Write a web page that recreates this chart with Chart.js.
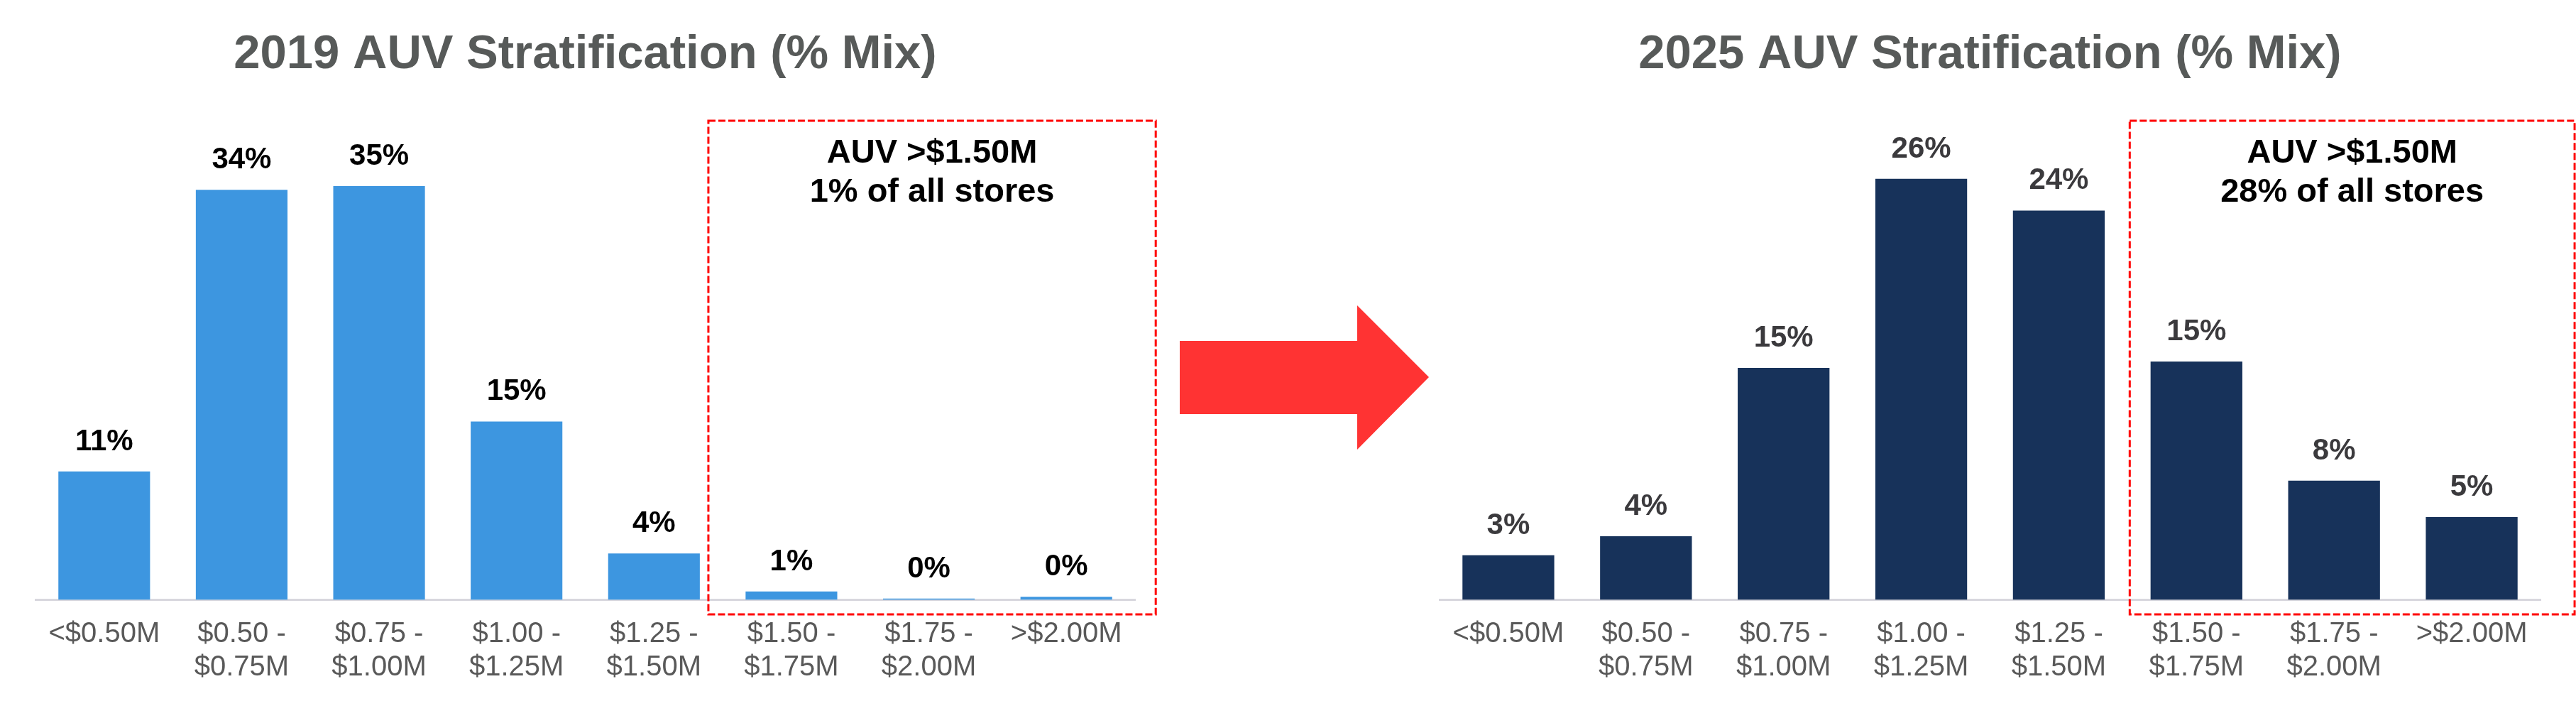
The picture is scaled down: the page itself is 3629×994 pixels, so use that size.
<!DOCTYPE html>
<html>
<head>
<meta charset="utf-8">
<title>AUV Stratification</title>
<script src="https://cdn.jsdelivr.net/npm/chart.js@4.4.1/dist/chart.umd.min.js"></script>
<style>
  html, body { margin: 0; padding: 0; background: #fff; }
  body { width: 3629px; height: 994px; position: relative; overflow: hidden; }
  .wrap { position: absolute; top: 0; height: 994px; }
  #w19 { left: 0; width: 1660px; }
  #w25 { left: 1960px; width: 1669px; }
  /* big red arrow between the two charts */
  #arrow {
    position: absolute; left: 1662px; top: 430px; width: 351px; height: 203px;
    background: #ff3333;
    clip-path: polygon(0 50px, 250px 50px, 250px 0, 351px 101px, 250px 203px, 250px 153px, 0 153px);
  }
</style>
</head>
<body>
<div class="wrap" id="w19"><canvas id="c19"></canvas></div>
<div id="arrow"></div>
<div class="wrap" id="w25"><canvas id="c25"></canvas></div>

<script>
// ── DATA ─────────────────────────────────────────────────────
var CATS = [
  ["<$0.50M"],
  ["$0.50 -", "$0.75M"],
  ["$0.75 -", "$1.00M"],
  ["$1.00 -", "$1.25M"],
  ["$1.25 -", "$1.50M"],
  ["$1.50 -", "$1.75M"],
  ["$1.75 -", "$2.00M"],
  [">$2.00M"]
];

var MIX_2019 = [10.8, 34.5, 34.8, 15.0, 3.9, 0.7, 0.1, 0.25];
var LBL_2019 = ["11%", "34%", "35%", "15%", "4%", "1%", "0%", "0%"];

var MIX_2025 = [2.8, 4.0, 14.6, 26.5, 24.5, 15.0, 7.5, 5.2];
var LBL_2025 = ["3%", "4%", "15%", "26%", "24%", "15%", "8%", "5%"];

var BOX_2019 = ["AUV >$1.50M", "1% of all stores"];
var BOX_2025 = ["AUV >$1.50M", "28% of all stores"];

var FONT = "'Liberation Sans', Arial, Helvetica, sans-serif";
Chart.defaults.font.family = FONT;

// ── PLUGINS ──────────────────────────────────────────────────
var barLabels = {
  id: "barLabels",
  afterDatasetsDraw: function(chart, args, o) {
    var ctx = chart.ctx;
    var meta = chart.getDatasetMeta(0);
    ctx.save();
    ctx.font = "bold 42px " + FONT;
    ctx.fillStyle = o.color;
    ctx.textAlign = "center";
    ctx.textBaseline = "alphabetic";
    meta.data.forEach(function(bar, i) {
      ctx.fillText(o.labels[i], bar.x, bar.y - 30);
    });
    ctx.restore();
  }
};

// dashed red call-out round the top three buckets
var highBox = {
  id: "highBox",
  afterDraw: function(chart, args, o) {
    var ctx = chart.ctx, x = chart.scales.x;
    var l = x.getPixelForValue(o.from) - o.padL;
    var r = x.getPixelForValue(o.to) + o.padR;
    ctx.save();
    ctx.strokeStyle = "#ff0000";
    ctx.lineWidth = 3;
    ctx.setLineDash([10, 4]);
    ctx.strokeRect(l, o.top, r - l, o.bottom - o.top);
    ctx.setLineDash([]);
    ctx.fillStyle = "#000";
    ctx.font = "bold 47px " + FONT;
    ctx.textAlign = "center";
    ctx.textBaseline = "alphabetic";
    ctx.fillText(o.text[0], (l + r) / 2, 229);
    ctx.fillText(o.text[1], (l + r) / 2, 284);
    ctx.restore();
  }
};

// ── CHART ────────────────────────────────────────────────────
function makeChart(id, title, values, labels, barColor, lblColor, yMax, padL, padR, box) {
  return new Chart(document.getElementById(id).getContext("2d"), {
    type: "bar",
    data: {
      labels: CATS,
      datasets: [{
        data: values,
        backgroundColor: barColor,
        categoryPercentage: 1,
        barPercentage: 0.667
      }]
    },
    options: {
      responsive: true,
      maintainAspectRatio: false,
      animation: false,
      layout: { padding: { left: padL, right: padR, top: 0, bottom: 6 } },
      plugins: {
        legend: { display: false },
        tooltip: { enabled: false },
        title: {
          display: true,
          text: title,
          color: "#575a59",
          font: { size: 67, weight: "bold", lineHeight: 1.2 },
          padding: { top: 37, bottom: 32.6 }
        },
        barLabels: { labels: labels, color: lblColor },
        highBox: box
      },
      scales: {
        x: {
          grid: { display: false, drawTicks: false },
          border: { display: true, color: "#d8d7de", width: 3 },
          ticks: {
            color: "#595959",
            font: { size: 40, lineHeight: 1.17 },
            padding: 25,
            maxRotation: 0,
            autoSkip: false
          }
        },
        y: { display: false, min: 0, max: yMax }
      }
    },
    plugins: [barLabels, highBox]
  });
}

makeChart("c19", "2019 AUV Stratification (% Mix)", MIX_2019, LBL_2019,
  "#3d96e0", "#000000", 41.5, 50, 61,
  { from: 5, to: 7, padL: 117, padR: 126, top: 170, bottom: 865, text: BOX_2019 });

makeChart("c25", "2025 AUV Stratification (% Mix)", MIX_2025, LBL_2025,
  "#17325a", "#3b3a3d", 31.05, 68, 50,
  { from: 5, to: 7, padL: 94, padR: 145, top: 170, bottom: 865, text: BOX_2025 });
</script>
</body>
</html>
